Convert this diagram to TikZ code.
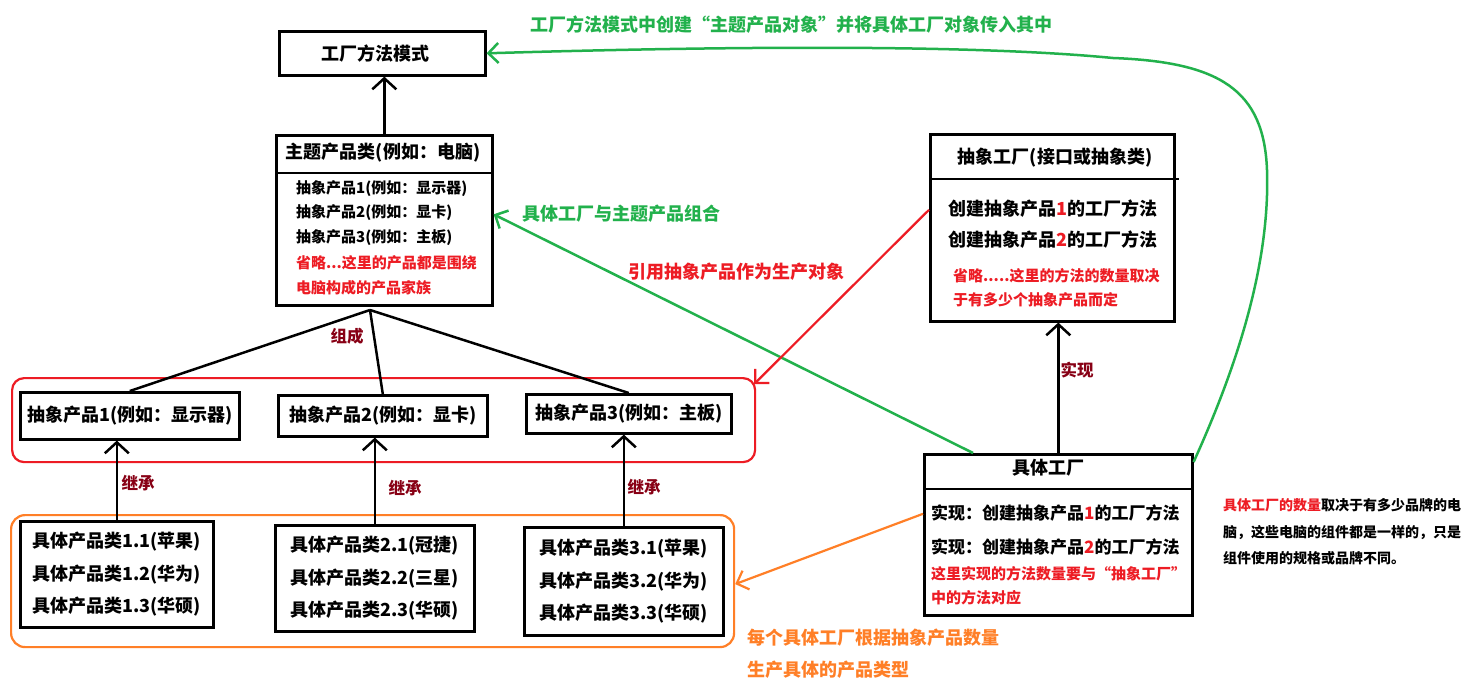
\documentclass[tikz,border=0pt]{standalone}
\usepackage{fontspec}
\setmainfont{Noto Sans CJK SC}
\newfontfamily\fwq{Noto Sans CJK SC}[RawFeature=+fwid]
\usetikzlibrary{arrows.meta}
\definecolor{pgreen}{RGB}{34,177,76}
\definecolor{pred}{RGB}{237,28,36}
\definecolor{porange}{RGB}{255,127,39}
\definecolor{pdark}{RGB}{136,0,21}
\begin{document}
\begin{tikzpicture}[x=1pt,y=-1pt,
  box/.style={draw=black, line width=2.6pt, anchor=north west, inner sep=0pt},
  big/.style={font=\bfseries\fontsize{18}{32.5}\selectfont},
  mid/.style={font=\bfseries\fontsize{17}{20}\selectfont},
  small/.style={font=\bfseries\fontsize{15}{17}\selectfont},
  note/.style={font=\bfseries\fontsize{14}{16}\selectfont},
  txt/.style={inner sep=0pt, anchor=west},
  rel/.style={font=\bfseries\fontsize{16.5}{18}\selectfont, text=pdark, inner sep=0pt},
  tip/.style={-{Straight Barb[length=11pt,width=24pt]}},
  gtip/.style={-{Straight Barb[length=10pt,width=20pt]}},
  conn/.style={line width=2.5pt, draw=black},
  group/.style={line width=2.2pt, anchor=north west, inner sep=0pt},
]
\fill[white] (0,0) rectangle (1484,683);
\useasboundingbox (0,0) rectangle (1484,683);

% group frames
\node[group, draw=pred, rounded corners=12pt, minimum width=743pt, minimum height=84pt] (rb) at (11,377) {};
\node[group, draw=porange, rounded corners=14pt, minimum width=723pt, minimum height=132pt] (ob) at (10,514) {};

% top box
\node[box, big, minimum width=206pt, minimum height=44pt] (fm) at (278,30) {\hspace*{-14pt}工厂方法模式};

% subject product class
\node[box, minimum width=216pt, minimum height=170pt] (tb) at (275,134) {};
\draw[line width=2.6pt] ([yshift=-39pt]tb.north west) -- ([yshift=-39pt]tb.north east);
\node[big, inner sep=0pt] (tbt) at (383,153) {主题产品类(例如：电脑)};
\node[small, txt] (tb1) at (296,189) {抽象产品1(例如：显示器)};
\node[small, txt] (tb2) at (296,213) {抽象产品2(例如：显卡)};
\node[small, txt] (tb3) at (296,238) {抽象产品3(例如：主板)};
\node[small, txt, text=pred] (tb4) at (296,263) {省略...这里的产品都是围绕};
\node[small, txt, text=pred] (tb5) at (296,288) {电脑构成的产品家族};

% abstract products
\node[box, big, minimum width=219pt, minimum height=47pt] (a1) at (19,391) {抽象产品1(例如：显示器)};
\node[box, big, minimum width=209pt, minimum height=41pt] (a2) at (277,394) {抽象产品2(例如：显卡)};
\node[box, big, minimum width=205pt, minimum height=39pt] (a3) at (525,393) {抽象产品3(例如：主板)};

% concrete products
\node[box, big, align=left, minimum width=193pt, minimum height=106pt] (c1) at (19,520) {具体产品类1.1(苹果)\\具体产品类1.2(华为)\\具体产品类1.3(华硕)};
\node[box, big, align=left, minimum width=199pt, minimum height=106pt] (c2) at (274,524) {具体产品类2.1(冠捷)\\具体产品类2.2(三星)\\具体产品类2.3(华硕)};
\node[box, big, align=left, minimum width=199pt, minimum height=108pt] (c3) at (523,526) {具体产品类3.1(苹果)\\具体产品类3.2(华为)\\具体产品类3.3(华硕)};

% abstract factory
\node[box, minimum width=244pt, minimum height=187pt] (af) at (929,133) {};
\draw[line width=2.6pt] ([yshift=-46pt]af.north west) -- ([yshift=-46pt,xshift=3pt]af.north east);
\node[big, inner sep=0pt] (aft) at (1055,158) {抽象工厂(接口或抽象类)};
\node[big, txt] (af1) at (948,209) {创建抽象产品\textcolor{pred}{1}的工厂方法};
\node[big, txt] (af2) at (948,240) {创建抽象产品\textcolor{pred}{2}的工厂方法};
\node[small, txt, text=pred] (af3) at (953,276) {省略.....这里的方法的数量取决};
\node[small, txt, text=pred] (af4) at (953,300) {于有多少个抽象产品而定};

% concrete factory
\node[box, minimum width=268pt, minimum height=161pt] (kf) at (923,453) {};
\draw[line width=2.6pt] ([yshift=-36pt]kf.north west) -- ([yshift=-36pt]kf.north east);
\node[big, inner sep=0pt] (kft) at (1048,468) {具体工厂};
\node[mid, txt] (kf1) at (931,513) {实现：创建抽象产品\textcolor{pred}{1}的工厂方法};
\node[mid, txt] (kf2) at (931,547) {实现：创建抽象产品\textcolor{pred}{2}的工厂方法};
\node[small, txt, text=pred] (kf3) at (931,574) {这里实现的方法数量要与{\fwq “}抽象工厂{\fwq ”}};
\node[small, txt, text=pred] (kf4) at (931,598) {中的方法对应};

% right note
\node[note, txt] (n1) at (1223,505) {\textcolor{pred}{具体工厂的数量}取决于有多少品牌的电};
\node[note, txt] (n2) at (1223,533) {脑，这些电脑的组件都是一样的，只是};
\node[note, txt] (n3) at (1223,558) {组件使用的规格或品牌不同。};

% black connectors
\draw[conn, tip] (tb.north) -- (tb.north |- fm.south);
\coordinate (fan) at (370,310);
\draw[conn] (fan) -- (a1.north);
\draw[conn] (fan) -- (a2.north);
\draw[conn] (fan) -- (a3.north);
\node[rel] (lz) at (347,336) {组成};
\draw[conn, tip] (c1.north) -- (c1.north |- a1.south);
\draw[conn, tip] (c2.north) -- (c2.north |- a2.south);
\draw[conn, tip] (c3.north) -- (c3.north |- a3.south);
\node[rel] (l1) at (138,483) {继承};
\node[rel] (l2) at (405,488) {继承};
\node[rel] (l3) at (644,487) {继承};
\draw[conn, tip] (kf.north) -- (kf.north |- af.south);
\node[rel] (lx) at (1077,370) {实现};

% coloured connectors
\draw[line width=2.5pt, pgreen, gtip] ([yshift=-9pt]kf.north east) .. controls (1240,360) and (1270,260) .. (1267,170) .. controls (1264,90) and (1220,62) .. (1113,58) .. controls (1000,47) and (800,44) .. (fm.east);
\node[big, text=pgreen, inner sep=0pt] (gl1) at (791,25) {工厂方法模式中创建{\fwq “}主题产品对象{\fwq ”}并将具体工厂对象传入其中};
\draw[line width=2.5pt, pgreen, gtip] ([xshift=50pt]kf.north west) -- ([yshift=6pt]tb.east);
\node[big, txt, text=pgreen] (gl2) at (522,214) {具体工厂与主题产品组合};
\draw[line width=2.2pt, pred, gtip] ([yshift=18pt]af.west) -- ([xshift=-2pt,yshift=-7pt]rb.north east);
\node[big, txt, text=pred] (rl) at (628,272) {引用抽象产品作为生产对象};
\draw[line width=2.2pt, porange, gtip] ([yshift=21pt]kf.west) -- ([yshift=-3pt]ob.east);
\node[big, txt, text=porange] (ol1) at (747,638) {每个具体工厂根据抽象产品数量};
\node[big, txt, text=porange] (ol2) at (747,670) {生产具体的产品类型};
\end{tikzpicture}
\end{document}
